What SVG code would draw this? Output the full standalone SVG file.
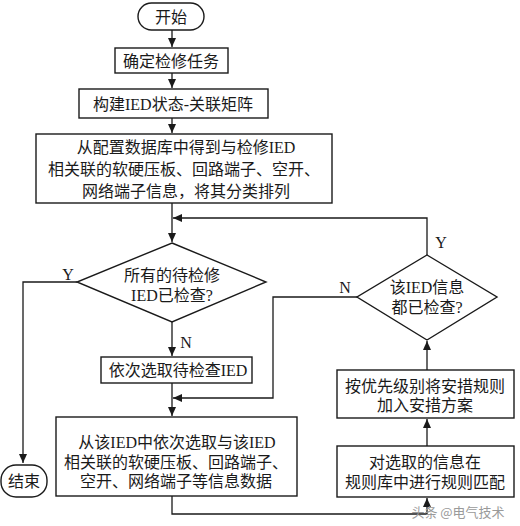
<svg xmlns="http://www.w3.org/2000/svg" width="520" height="526" viewBox="0 0 520 526">
<style>
.box{fill:#fff;stroke:#1a1a1a;stroke-width:1.4}
.ln{fill:none;stroke:#1a1a1a;stroke-width:1.3}
text{font-family:"Liberation Serif","Noto Sans CJK SC",serif;font-size:16px;fill:#1a1a1a;text-anchor:middle;dominant-baseline:central}
.wm{font-family:"Noto Sans CJK SC",sans-serif;font-size:13px;fill:#9a9a9a}
</style>
<defs>
<marker id="arr" markerUnits="userSpaceOnUse" markerWidth="10" markerHeight="8" refX="9" refY="4" orient="auto">
<path d="M0,0 L9,4 L0,8 Z" fill="#1a1a1a"/>
</marker>
</defs>
<rect width="520" height="526" fill="#fff"/>
<g id="connectors">
<path class="ln" d="M172,30 V47" marker-end="url(#arr)"/>
<path class="ln" d="M172,73 V88" marker-end="url(#arr)"/>
<path class="ln" d="M172,118 V133" marker-end="url(#arr)"/>
<path class="ln" d="M172,203 V242" marker-end="url(#arr)"/>
<path class="ln" d="M427,255 V218 H173" marker-end="url(#arr)"/>
<path class="ln" d="M77,282 H23 V463" marker-end="url(#arr)"/>
<path class="ln" d="M172,322 V356" marker-end="url(#arr)"/>
<path class="ln" d="M172,383 V416" marker-end="url(#arr)"/>
<path class="ln" d="M357,297 H273 V398 H173" marker-end="url(#arr)"/>
<path class="ln" d="M172,496 V514 H427 V498" marker-end="url(#arr)"/>
<path class="ln" d="M427,446 V419" marker-end="url(#arr)"/>
<path class="ln" d="M427,370 V341" marker-end="url(#arr)"/>
<text x="68" y="274">Y</text>
<text x="186" y="342">N</text>
<text x="441" y="242">Y</text>
<text x="345" y="287">N</text>
</g>
<g id="start">
<rect class="box" x="138" y="3" width="66" height="27" rx="13.5"/>
<text x="171" y="17">开始</text>
</g>
<g id="task">
<rect class="box" x="115" y="48" width="113" height="25"/>
<text x="171" y="61">确定检修任务</text>
</g>
<g id="matrix">
<rect class="box" x="79" y="89" width="189" height="29"/>
<text x="173" y="104">构建IED状态-关联矩阵</text>
</g>
<g id="fetch">
<rect class="box" x="36" y="134" width="296" height="69"/>
<text x="186" y="147">从配置数据库中得到与检修IED</text>
<text x="184" y="169">相关联的软硬压板、回路端子、空开、</text>
<text x="186" y="191">网络端子信息，将其分类排列</text>
</g>
<g id="check-all">
<polygon class="box" points="172,243 266,282 172,322 77,282"/>
<text x="172" y="275">所有的待检修</text>
<text x="172" y="295">IED已检查?</text>
</g>
<g id="select-ied">
<rect class="box" x="101" y="357" width="151" height="26"/>
<text x="178" y="370">依次选取待检查IED</text>
</g>
<g id="select-info">
<rect class="box" x="56" y="417" width="241" height="79"/>
<text x="177" y="442">从该IED中依次选取与该IED</text>
<text x="176" y="462">相关联的软硬压板、回路端子、</text>
<text x="176" y="481">空开、网络端子等信息数据</text>
</g>
<g id="end">
<rect class="box" x="1" y="465" width="46" height="32" rx="15"/>
<text x="24" y="481">结束</text>
</g>
<g id="check-info">
<polygon class="box" points="427,255 497,297 427,340 357,297"/>
<text x="427" y="287">该IED信息</text>
<text x="427" y="307">都已检查?</text>
</g>
<g id="add-rule">
<rect class="box" x="337" y="370" width="177" height="48"/>
<text x="425" y="386">按优先级别将安措规则</text>
<text x="425" y="405">加入安措方案</text>
</g>
<g id="match">
<rect class="box" x="337" y="446" width="177" height="51"/>
<text x="425" y="462">对选取的信息在</text>
<text x="425" y="482">规则库中进行规则匹配</text>
</g>
<text class="wm" x="458" y="511">头条 @电气技术</text>
</svg>
